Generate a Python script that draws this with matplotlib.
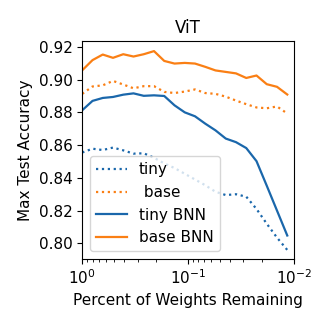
import numpy as np
import matplotlib
matplotlib.use('Agg')
import matplotlib.pyplot as plt

# fraction of weights kept after each pruning round (20% pruned per round)
rounds = np.arange(21)
remaining = 0.8 ** rounds

tiny = [0.8555, 0.8578, 0.8570, 0.8585, 0.8568, 0.8548, 0.8550, 0.8523, 0.8488, 0.8460,
        0.8425, 0.8390, 0.8355, 0.8315, 0.8295, 0.8300, 0.8285, 0.8210, 0.8120, 0.8035, 0.7960]
base = [0.8913, 0.8958, 0.8965, 0.8992, 0.8970, 0.8947, 0.8960, 0.8960, 0.8925, 0.8918,
        0.8927, 0.8940, 0.8918, 0.8913, 0.8896, 0.8872, 0.8850, 0.8830, 0.8825, 0.8836, 0.8793]
tiny_bnn = [0.8813, 0.8870, 0.8888, 0.8894, 0.8908, 0.8916, 0.8901, 0.8904, 0.8900, 0.8843,
            0.8800, 0.8776, 0.8731, 0.8690, 0.8640, 0.8618, 0.8582, 0.8502, 0.8352, 0.8200, 0.8048]
base_bnn = [0.9057, 0.9119, 0.9153, 0.9133, 0.9155, 0.9141, 0.9155, 0.9174, 0.9114, 0.9098,
            0.9102, 0.9098, 0.9078, 0.9056, 0.9047, 0.9038, 0.9010, 0.9025, 0.8972, 0.8956, 0.8909]

blue = '#1a67ab'
orange = '#fa7f14'

plt.rcParams['font.size'] = 11
fig, ax = plt.subplots(figsize=(3.29, 3.29), dpi=100)
fig.subplots_adjust(left=0.25, right=0.893, top=0.875, bottom=0.213)

ax.plot(remaining, tiny, ':', color=blue, lw=1.6, label='tiny')
ax.plot(remaining, base, ':', color=orange, lw=1.6, label=' base')
ax.plot(remaining, tiny_bnn, '-', color=blue, lw=1.6, label='tiny BNN')
ax.plot(remaining, base_bnn, '-', color=orange, lw=1.6, label='base BNN')

ax.set_xscale('log')
ax.set_xlim(1, 0.01)
ax.set_ylim(0.7905, 0.9235)
ax.set_yticks([0.80, 0.82, 0.84, 0.86, 0.88, 0.90, 0.92])
ax.set_title('ViT', fontsize=12)
ax.set_xlabel('Percent of Weights Remaining')
ax.set_ylabel('Max Test Accuracy')
ax.legend(loc='lower left')

plt.savefig('out.png')
plt.close()
